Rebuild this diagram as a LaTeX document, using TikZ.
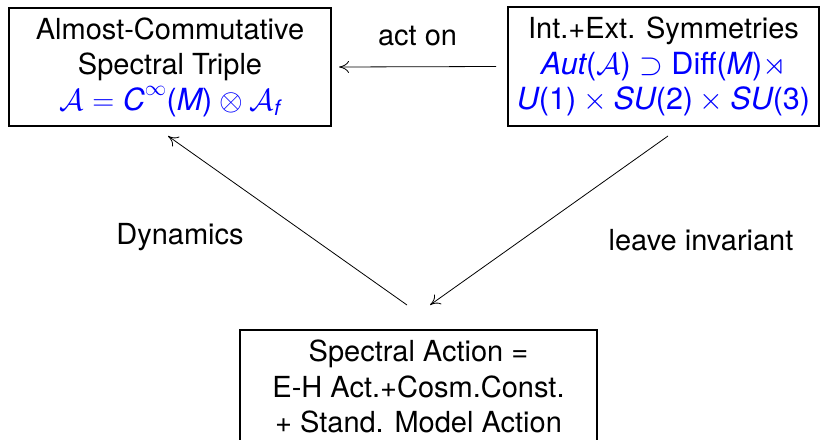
\RequirePackage{fix-cm}
\documentclass[tikz,border=0pt]{standalone}
\usepackage{amsmath,amssymb}
\usepackage{fontspec}
\setmainfont{TeX Gyre Heros}
\usetikzlibrary{calc,arrows.meta}

% sans letters inside the formulas: italic symbols, upright brackets and digits
\newcommand{\si}[1]{\textit{#1}}
\newcommand{\su}[1]{\textup{#1}}
% formula lines, set a touch larger than the prose
\newcommand{\fml}[1]{{\fontsize{30.5}{35.5}\selectfont\textcolor{blue}{$#1$}}}

\begin{document}
\begin{tikzpicture}[x=1pt,y=-1pt,
  every node/.style={font=\fontsize{29}{35.5}\selectfont},
  blockbox/.style={draw=black, line width=2pt, align=center, inner sep=0pt},
  flow/.style={-{To[length=10pt,width=12pt]}, line width=0.8pt}]
  \useasboundingbox (0,0) rectangle (824,439);
  \begin{scope}
    \clip (0,0) rectangle (824,439);

    % three blocks
    \node[blockbox, minimum width=322pt, minimum height=118pt] (act) at (170,67)
      {Almost-Commutative\\Spectral Triple\\
       \fml{\mathcal{A}=\si{C}^{\infty}\su{(}\si{M}\su{)}\otimes\mathcal{A}_{\si{f}}}};
    \node[blockbox, minimum width=311pt, minimum height=119pt] (sym) at (663.5,66.5)
      {Int.+Ext. Symmetries\\
       \fml{\si{Aut}\su{(}\mathcal{A}\su{)}\supset\su{Diff(}\si{M}\su{)}\rtimes}\\
       \fml{\si{U}\su{(1)}\times\si{SU}\su{(2)}\times\si{SU}\su{(3)}}};
    % the lower block runs past the bottom edge
    \node[blockbox, minimum width=357pt, inner ysep=10pt, anchor=north] (spa) at (418.5,329)
      {Spectral Action =\\E-H Act.+Cosm.Const.\\+ Stand. Model Action\rule[-30pt]{0pt}{0pt}};

    % relations between the blocks
    \draw[flow] ([xshift=-11pt]sym.west) -- ([xshift=7pt]act.east)
      node[midway, above=17pt] {act on};
    \draw[flow] ($(spa.north)+(-11.5,-24)$) -- ($(act.south)+(-2,9)$);
    \draw[flow] ($(sym.south)+(4.5,9)$) -- ($(spa.north)+(11.5,-24)$);

    \node (dyn) at (180,237) {Dynamics};
    \node (inv) at (701,240) {leave invariant};
  \end{scope}
\end{tikzpicture}
\end{document}
